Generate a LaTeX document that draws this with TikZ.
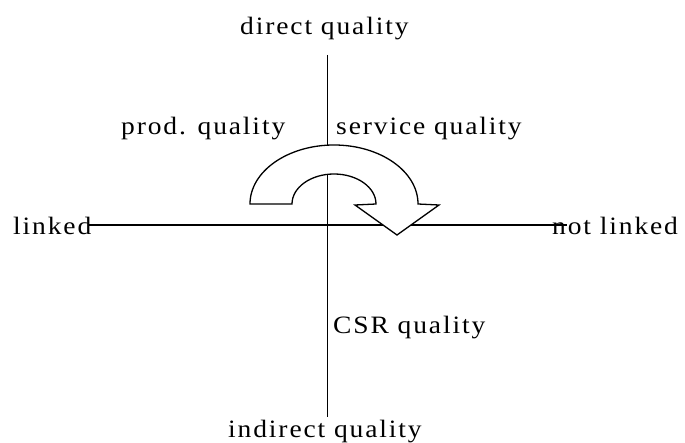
\documentclass[tikz,border=0pt]{standalone}
\usepackage{fontspec}
\setmainfont{Liberation Serif}[FakeStretch=1.1,LetterSpace=7.5]
\begin{document}
\begin{tikzpicture}[x=1pt,y=-1pt,
  axis/.style={line width=1.3pt},
  lbl/.style={anchor=base west,inner sep=0pt,font=\fontsize{25}{29}\selectfont},
  turn/.style={line width=1.3pt,fill=white}]
\useasboundingbox (0,0) rectangle (685,443);
\coordinate (vt) at (327.5,55);
\coordinate (vb) at (327.5,417);
\coordinate (hl) at (88,225);
\coordinate (hr) at (567,225);
\draw[axis] (vt) -- (vb);
\draw[axis] (hl) -- (hr);
\draw[turn] (250,204) arc[start angle=180,end angle=0,x radius=84pt,y radius=59pt]
  -- (439,205) -- (397,235) -- (355,205) -- (376,204)
  arc[start angle=0,end angle=180,x radius=42pt,y radius=30pt] -- cycle;
\node[lbl] (dq) at (240,35) {direct quality};
\node[lbl] (pq) at (121,135) {prod. quality};
\node[lbl] (sq) at (336,135) {service quality};
\node[lbl] (ln) at (13,235) {linked};
\node[lbl] (nl) at (552,235) {not linked};
\node[lbl] (cq) at (333,334) {CSR quality};
\node[lbl] (iq) at (228,437) {indirect quality};
\end{tikzpicture}
\end{document}
